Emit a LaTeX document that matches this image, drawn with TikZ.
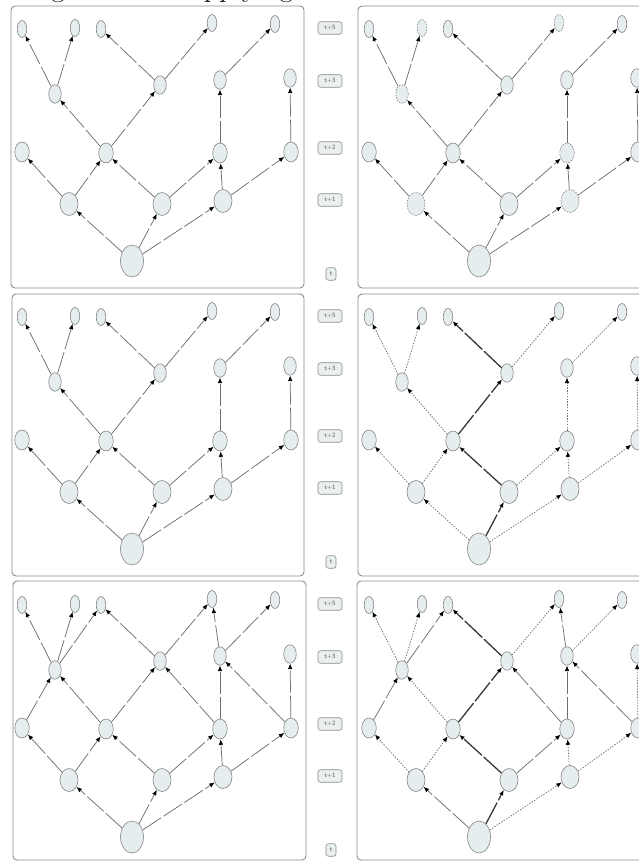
\documentclass[tikz,border=0pt]{standalone}
\usetikzlibrary{shapes.geometric,arrows.meta}
\definecolor{nodefill}{HTML}{E6EDEF}
\definecolor{nodeline}{HTML}{858585}
\definecolor{edgegrey}{HTML}{707070}
\definecolor{boldgrey}{HTML}{383838}
\definecolor{panelline}{HTML}{8C8C8C}
\definecolor{tagfill}{HTML}{EAF0F0}
\tikzset{
  nd/.style={ellipse, draw=nodeline, fill=nodefill, line width=0.6pt, inner sep=0pt},
  s5/.style={nd, minimum width=9.5pt, minimum height=17pt},
  s3/.style={nd, minimum width=12.5pt, minimum height=18.5pt},
  s2/.style={nd, minimum width=14.5pt, minimum height=20pt},
  s1/.style={nd, minimum width=18pt, minimum height=23pt},
  s0/.style={nd, minimum width=23pt, minimum height=32pt},
  ghost/.style={dash pattern=on 1.6pt off 1.2pt},
  tip/.style={-{Latex[length=5.5pt,width=4.5pt,color=black]}},
  edge/.style={tip, draw=edgegrey, line width=0.75pt, dash pattern=on 22pt off 3pt},
  dotedge/.style={tip, draw=edgegrey, line width=0.75pt, dash pattern=on 1.4pt off 1.4pt},
  boldedge/.style={tip, draw=boldgrey, line width=1.3pt, dash pattern=on 24pt off 2.5pt},
  panel/.style={draw=panelline, line width=0.9pt, rounded corners=4pt, fill=white},
  tag/.style={draw=panelline, fill=tagfill, rounded corners=2.5pt, line width=0.6pt,
    inner sep=0pt, minimum height=12.5pt, minimum width=24pt,
    font=\sffamily\fontsize{6.5}{7}\selectfont, text=black!65},
  hkn1/.style={}, hkn2/.style={}, hkn3/.style={}, hkn4/.style={}, hkn5/.style={},
  hka/.style={}, hkb/.style={}, hkc/.style={}, hkd/.style={},
  hke/.style={}, hkf/.style={}, hkg/.style={}, hkh/.style={},
  hki/.style={}, hkj/.style={}, hkk/.style={}, hkr/.style={},
}
\newcommand\mknodes[1]{%
  \node[s5,hkn1] (#1n1) at (22,29) {};
  \node[s5,hkn2] (#1n2) at (75,28) {};
  \node[s5,hkn3] (#1n3) at (101,29) {};
  \node[s5,hkn4] (#1n4) at (212,23) {};
  \node[s5,hkn5] (#1n5) at (275,24) {};
  \node[s3,hka] (#1a) at (55,94) {};
  \node[s3,hkb] (#1b) at (160,85) {};
  \node[s3,hkc] (#1c) at (220,80) {};
  \node[s3,hkd] (#1d) at (290,78) {};
  \node[s2,hke] (#1e) at (22,152) {};
  \node[s2,hkf] (#1f) at (106,153) {};
  \node[s2,hkg] (#1g) at (220,153) {};
  \node[s2,hkh] (#1h) at (291,152) {};
  \node[s1,hki] (#1i) at (69,204) {};
  \node[s1,hkj] (#1j) at (162,204) {};
  \node[s1,hkk] (#1k) at (223,201) {};
  \node[s0,hkr] (#1r) at (132,261) {};
}
\newcommand\links[3]{\foreach \ua/\ub in {#3}{\draw[#2] (#1\ua) -- (#1\ub);}}
\newcommand\mktags[1]{%
  \node[tag] (#1t5) at (330,28) {t+5};
  \node[tag] (#1t3) at (330,81) {t+3};
  \node[tag] (#1t2) at (330,148) {t+2};
  \node[tag] (#1t1) at (330,200) {t+1};
  \node[tag, minimum width=10pt] (#1t0) at (331,274) {t};
}
\begin{document}
\begin{tikzpicture}[x=1pt,y=-1pt]
\useasboundingbox (0,0) rectangle (638,861);
\fill[white] (0,0) rectangle (638,861);
\node[anchor=base west, inner sep=0pt, font=\fontsize{30}{36}\selectfont] (title) at (-58,-3) {Reasoning and then applying};
% ---------- row 1 ----------
\draw[panel] (11,6) rectangle (304,288);
\draw[panel] (358,6) rectangle (651,288);
\mktags{R1}
\mknodes{A}
\links{A}{edge}{r/i,r/j,r/k,i/e,i/f,j/f,j/g,k/g,k/h,f/a,f/b,g/c,h/d,a/n1,a/n2,b/n3,b/n4,c/n5}
\begin{scope}[xshift=347pt, hkn2/.style={ghost}, hkn4/.style={ghost}, hka/.style={ghost},
  hkg/.style={ghost}, hki/.style={ghost}, hkk/.style={ghost}]
  \mknodes{B}
\end{scope}
\links{B}{edge}{r/i,r/j,r/k,i/e,i/f,j/f,j/g,k/g,k/h,f/a,f/b,g/c,h/d,a/n1,a/n2,b/n3,b/n4,c/n5}
% ---------- row 2 ----------
\begin{scope}[yshift=-288pt]
  \draw[panel] (12,6) rectangle (304,288);
  \draw[panel] (358,6) rectangle (651,288);
  \mktags{R2}
  \mknodes{C}
  \begin{scope}[xshift=347pt]\mknodes{D}\end{scope}
\end{scope}
\links{C}{edge}{r/i,r/j,r/k,i/e,i/f,j/f,j/g,k/g,k/h,f/a,f/b,g/c,h/d,a/n1,a/n2,b/n3,b/n4,c/n5}
\links{D}{boldedge}{r/j,j/f,f/b,b/n3}
\links{D}{dotedge}{r/i,r/k,i/e,i/f,j/g,k/g,k/h,f/a,g/c,h/d,a/n1,a/n2,b/n4,c/n5}
% ---------- row 3 ----------
\begin{scope}[yshift=-576pt]
  \draw[panel] (13,5) rectangle (306,284);
  \draw[panel] (357,5) rectangle (651,284);
  \mktags{R3}
  \mknodes{E}
  \begin{scope}[xshift=347pt]\mknodes{F}\end{scope}
\end{scope}
\links{E}{edge}{r/i,r/j,r/k,i/e,i/f,j/f,j/g,k/g,k/h,f/a,f/b,g/c,h/d,a/n1,a/n2,b/n3,b/n4,c/n5,e/a,g/b,h/c,a/n3,c/n4}
\links{F}{boldedge}{r/j,j/f,f/b,b/n3}
\links{F}{edge}{r/i,j/g,e/a,g/b,g/c,h/c,a/n3,c/n4}
\links{F}{dotedge}{r/k,i/e,i/f,k/g,k/h,f/a,h/d,a/n1,a/n2,b/n4,c/n5}
\end{tikzpicture}
\end{document}
